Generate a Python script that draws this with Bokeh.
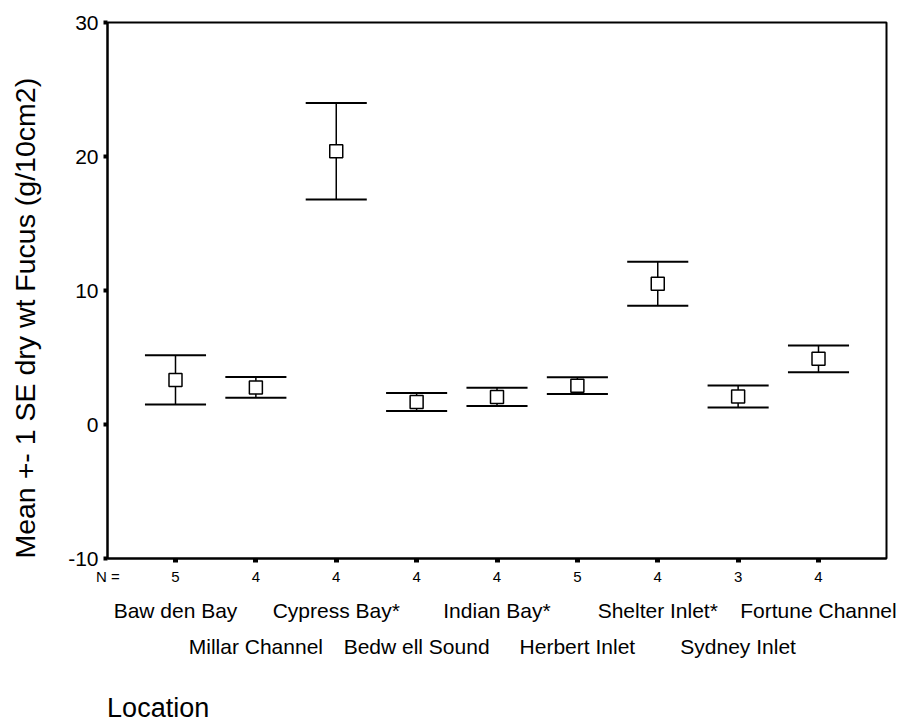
from bokeh.plotting import figure
from bokeh.models import LinearAxis, FixedTicker, Range1d, ColumnDataSource
from bokeh.embed import file_html
from bokeh.resources import INLINE

locations = ["Baw den Bay", "Millar Channel", "Cypress Bay*", "Bedw ell Sound", "Indian Bay*",
             "Herbert Inlet", "Shelter Inlet*", "Sydney Inlet", "Fortune Channel"]
n_values = [5, 4, 4, 4, 4, 5, 4, 3, 4]
means = [3.33, 2.77, 20.4, 1.68, 2.06, 2.9, 10.5, 2.09, 4.9]
se = [1.83, 0.77, 3.6, 0.68, 0.68, 0.63, 1.64, 0.82, 1.0]
y_ticks = [-10, 0, 10, 20, 30]
y_title = "Mean +- 1 SE dry wt Fucus (g/10cm2)"

FONT = "Liberation Sans"
X_START, X_END = 0.154, 9.846
Y_START, Y_END = -10, 30
xs = list(range(1, len(locations) + 1))
half = 0.38
lo = [m - s for m, s in zip(means, se)]
hi = [m + s for m, s in zip(means, se)]
src = ColumnDataSource(dict(x=xs, m=means, lo=lo, hi=hi,
                            xl=[x - half for x in xs], xr=[x + half for x in xs]))

p = figure(width=903, height=726, output_backend="svg", toolbar_location=None,
           x_range=Range1d(X_START, X_END), y_range=Range1d(Y_START, Y_END),
           min_border_left=107, min_border_right=17, min_border_top=22, min_border_bottom=168,
           x_axis_location=None, y_axis_location=None)
p.grid.visible = False
p.outline_line_color = "black"
p.outline_line_width = 2
p.background_fill_color = "white"
p.border_fill_color = "white"

# y axis; the title sits a little below the centre in the original, so it is
# padded at its (upper) end with non-breaking spaces
ya = LinearAxis(ticker=FixedTicker(ticks=y_ticks),
                major_label_overrides={t: str(t) for t in y_ticks},
                axis_label=y_title + "\u00a0" * 7)
ya.axis_line_color = "black"
ya.axis_line_width = 2
ya.major_tick_line_width = 4
ya.major_tick_out = 4
ya.major_tick_in = 0
ya.minor_tick_line_color = None
ya.major_label_text_font = FONT
ya.major_label_text_font_size = "21px"
ya.major_label_text_color = "black"
ya.major_label_standoff = 5
ya.axis_label_text_font = FONT
ya.axis_label_text_font_size = "28.5px"
ya.axis_label_text_font_style = "normal"
ya.axis_label_text_color = "black"
ya.axis_label_standoff = 24
p.add_layout(ya, "left")

# x axis: tick marks only
xt = LinearAxis(ticker=FixedTicker(ticks=xs), major_label_overrides={x: "" for x in xs})
xt.axis_line_color = "black"
xt.axis_line_width = 2
xt.major_tick_line_width = 5
xt.major_tick_out = 4
xt.major_tick_in = 0
xt.minor_tick_line_color = None
xt.major_label_text_font_size = "1px"
xt.major_label_standoff = 0
p.add_layout(xt, "below")


def text_row(ticks, labels, size, standoff):
    ax = LinearAxis(ticker=FixedTicker(ticks=ticks), major_label_overrides=labels)
    ax.axis_line_color = None
    ax.major_tick_line_color = None
    ax.minor_tick_line_color = None
    ax.major_tick_out = 0
    ax.major_tick_in = 0
    ax.major_label_text_font = FONT
    ax.major_label_text_font_size = size
    ax.major_label_text_color = "black"
    ax.major_label_standoff = standoff
    p.add_layout(ax, "below")


# N row (with its "N =" caption at the frame's left edge)
n_ticks = [X_START + 0.006] + xs
n_labels = {n_ticks[0]: "N ="}
n_labels.update({x: str(n) for x, n in zip(xs, n_values)})
text_row(n_ticks, n_labels, "15px", 5)

# staggered location names
row1 = xs[0::2]
row2 = xs[1::2]
text_row(row1, {x: locations[x - 1] for x in row1}, "21px", 11)
text_row(row2, {x: locations[x - 1] for x in row2}, "21px", 10)

# x axis title "Location", left aligned with the frame
loc_tick = X_START + 0.63
text_row([loc_tick], {loc_tick: "Location"}, "27px", 32)

# error bars
p.segment(x0="x", y0="lo", x1="x", y1="hi", source=src, line_color="black", line_width=1.5)
p.segment(x0="xl", y0="hi", x1="xr", y1="hi", source=src, line_color="black", line_width=2)
p.segment(x0="xl", y0="lo", x1="xr", y1="lo", source=src, line_color="black", line_width=2)
p.scatter(x="x", y="m", source=src, marker="square", size=13, fill_color="white",
          line_color="black", line_width=1.5)

open("out.html", "w").write(file_html(p, INLINE))
